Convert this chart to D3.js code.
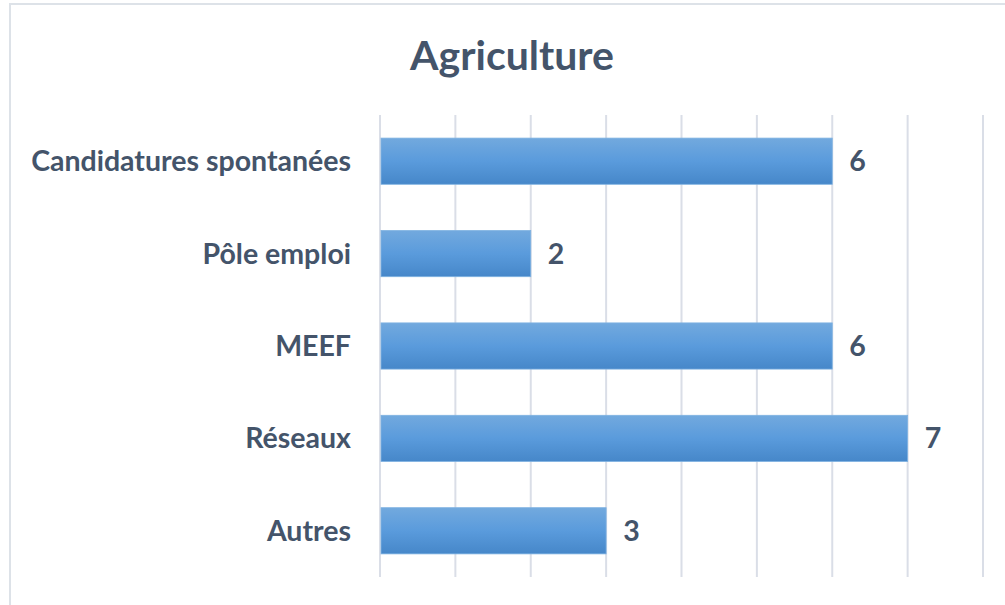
<!DOCTYPE html>
<html><head><meta charset="utf-8">
<script src="https://cdn.jsdelivr.net/npm/d3@7"></script>
<style>body{margin:0;background:#fff}svg{display:block}</style>
</head><body>
<script>
const categories = ["Candidatures spontanées","Pôle emploi","MEEF","Réseaux","Autres"];
const values = [6,2,6,7,3];
const ticks = [0,1,2,3,4,5,6,7,8];
const title = "Agriculture";

const W=1005,H=605;
const svg=d3.select("body").append("svg").attr("width",W).attr("height",H);
const defs=svg.append("defs");
const g=defs.append("linearGradient").attr("id","bg").attr("x1",0).attr("y1",0).attr("x2",0).attr("y2",1);
g.append("stop").attr("offset","0%").attr("stop-color","#72a9de");
g.append("stop").attr("offset","50%").attr("stop-color","#5a9bdc");
g.append("stop").attr("offset","100%").attr("stop-color","#4687c9");

svg.append("rect").attr("x",10).attr("y",4).attr("width",1010).attr("height",620)
  .attr("fill","#fff").attr("stroke","#dde2e8").attr("stroke-width",2);

const x=d3.scaleLinear().domain([0,8]).range([380,983]);
const y=d3.scaleBand().domain(categories).range([115,577]).paddingInner(0.5).paddingOuter(0.25);

svg.append("g").selectAll("line").data(ticks).join("line")
  .attr("x1",d=>x(d)).attr("x2",d=>x(d)).attr("y1",115).attr("y2",577)
  .attr("stroke","#dadee7").attr("stroke-width",2);

svg.append("g").selectAll("rect").data(categories).join("rect")
  .attr("x",x(0)+1).attr("y",d=>y(d)).attr("width",(d,i)=>x(values[i])-x(0)-1).attr("height",y.bandwidth())
  .attr("fill","url(#bg)").attr("stroke","#7fb2e2").attr("stroke-width",0.8);

const font="Lato, 'Open Sans', sans-serif";
svg.append("g").selectAll("text").data(categories).join("text")
  .attr("x",351).attr("y",d=>y(d)+y.bandwidth()/2).attr("dy","0.35em")
  .attr("text-anchor","end").attr("font-family",font).attr("font-weight","bold")
  .attr("font-size",28.5).attr("fill","#44546a").text(d=>d);

svg.append("g").selectAll("text").data(categories).join("text")
  .attr("x",(d,i)=>x(values[i])+17).attr("y",d=>y(d)+y.bandwidth()/2).attr("dy","0.35em")
  .attr("font-family",font).attr("font-weight","bold")
  .attr("font-size",28.5).attr("fill","#44546a").text((d,i)=>values[i]);

svg.append("text").attr("x",512).attr("y",56).attr("dy","0.35em").attr("text-anchor","middle")
  .attr("font-family",font).attr("font-weight","bold").attr("font-size",41).attr("fill","#44546a").text(title);
</script>
</body></html>
